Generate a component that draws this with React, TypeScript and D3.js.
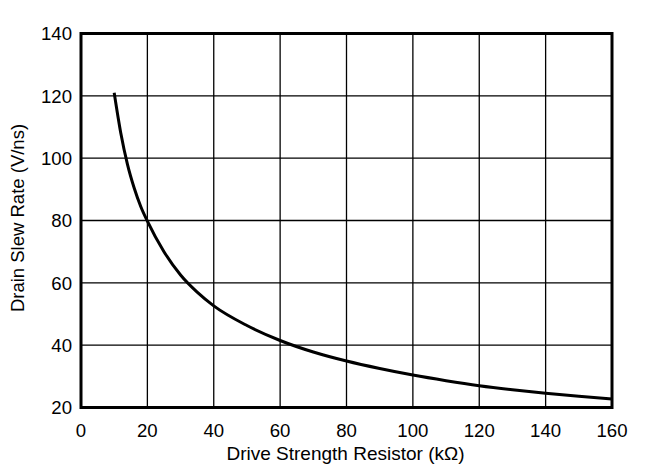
import React, { useEffect, useRef } from "react";
import * as d3 from "d3";

// Drive strength resistor (kΩ) vs drain slew rate (V/ns)
const resistorK = [10, 12, 14, 16, 18, 20, 25, 30, 35, 40, 50, 60, 70, 80, 90, 100, 110, 120, 130, 140, 150, 160];
const slewRate = [121, 108, 98, 90.5, 84.5, 79.8, 70, 62.5, 57, 52.6, 46.3, 41.5, 37.8, 34.9, 32.5, 30.4, 28.6, 27, 25.7, 24.6, 23.6, 22.7];
const xTicks = [0, 20, 40, 60, 80, 100, 120, 140, 160];
const yTicks = [20, 40, 60, 80, 100, 120, 140];

const App = () => {
  const svgRef = useRef<SVGSVGElement>(null);

  useEffect(() => {
    const width = 646;
    const height = 475;
    const margin = { top: 33.5, right: 34, bottom: 67.5, left: 81 };
    const innerW = width - margin.left - margin.right;
    const innerH = height - margin.top - margin.bottom;

    const root = d3.select(svgRef.current);
    root.selectAll("*").remove();
    const svg = root
      .append("g")
      .attr("transform", `translate(${margin.left},${margin.top})`);

    const x = d3.scaleLinear().domain([0, 160]).range([0, innerW]);
    const y = d3.scaleLinear().domain([20, 140]).range([innerH, 0]);

    const font = "'Liberation Sans', Arial, sans-serif";

    // grid
    svg
      .selectAll(".vgrid")
      .data(xTicks)
      .enter()
      .append("line")
      .attr("x1", (d) => x(d))
      .attr("x2", (d) => x(d))
      .attr("y1", 0)
      .attr("y2", innerH)
      .attr("stroke", "#000")
      .attr("stroke-width", 1.3);
    svg
      .selectAll(".hgrid")
      .data(yTicks)
      .enter()
      .append("line")
      .attr("x1", 0)
      .attr("x2", innerW)
      .attr("y1", (d) => y(d))
      .attr("y2", (d) => y(d))
      .attr("stroke", "#000")
      .attr("stroke-width", 1.3);

    // frame
    svg
      .append("rect")
      .attr("width", innerW)
      .attr("height", innerH)
      .attr("fill", "none")
      .attr("stroke", "#000")
      .attr("stroke-width", 3);

    // curve
    const line = d3
      .line<number>()
      .x((d, i) => x(resistorK[i]))
      .y((d) => y(d))
      .curve(d3.curveMonotoneX);
    svg
      .append("path")
      .datum(slewRate)
      .attr("d", line)
      .attr("fill", "none")
      .attr("stroke", "#000")
      .attr("stroke-width", 3);

    // tick labels
    svg
      .selectAll(".xl")
      .data(xTicks)
      .enter()
      .append("text")
      .attr("x", (d) => x(d))
      .attr("y", innerH + 29.5)
      .attr("text-anchor", "middle")
      .style("font-family", font)
      .style("font-size", "18.6px")
      .text((d) => d);
    svg
      .selectAll(".yl")
      .data(yTicks)
      .enter()
      .append("text")
      .attr("x", -9)
      .attr("y", (d) => y(d))
      .attr("dy", "0.36em")
      .attr("text-anchor", "end")
      .style("font-family", font)
      .style("font-size", "18.6px")
      .text((d) => d);

    // axis titles
    svg
      .append("text")
      .attr("x", innerW / 2 - 1)
      .attr("y", innerH + 52)
      .attr("text-anchor", "middle")
      .style("font-family", font)
      .style("font-size", "19px")
      .text("Drive Strength Resistor (kΩ)");
    svg
      .append("text")
      .attr("transform", "rotate(-90)")
      .attr("x", -(218 - margin.top))
      .attr("y", -margin.left + 24)
      .attr("text-anchor", "middle")
      .style("font-family", font)
      .style("font-size", "18.5px")
      .text("Drain Slew Rate (V/ns)");
  }, []);

  return (
    <svg
      ref={svgRef}
      width={646}
      height={475}
      style={{ position: "absolute", left: 0, top: 0, background: "#fff" }}
    ></svg>
  );
};

export default App;
